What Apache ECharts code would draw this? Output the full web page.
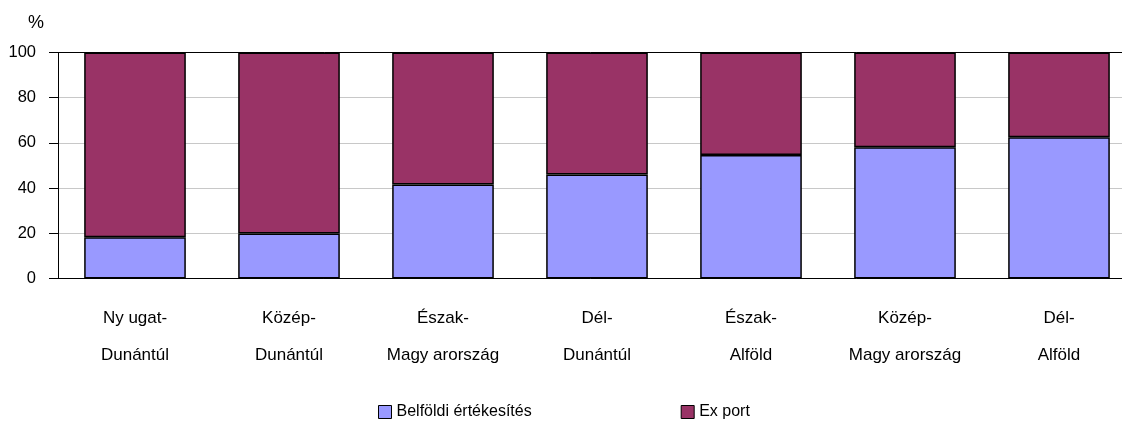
<!DOCTYPE html>
<html>
<head>
<meta charset="utf-8">
<script src="https://cdn.jsdelivr.net/npm/echarts@6/dist/echarts.min.js"></script>
<style>
html, body { margin: 0; padding: 0; background: #ffffff; }
#chart { width: 1122px; height: 421px; }
</style>
</head>
<body>
<div id="chart"></div>
<script>
// régiók (két soros címkék)
const regions = [
    "Ny ugat-\nDunántúl",
    "Közép-\nDunántúl",
    "Észak-\nMagy arország",
    "Dél-\nDunántúl",
    "Észak-\nAlföld",
    "Közép-\nMagy arország",
    "Dél-\nAlföld"
];
// belföldi értékesítés aránya, %
const domestic = [18.3, 19.9, 41.6, 46.0, 54.7, 58.1, 62.5];
// export aránya, %
const exportShare = [81.7, 80.1, 58.4, 54.0, 45.3, 41.9, 37.5];
const seriesNames = ["Belföldi értékesítés", "Ex port"];
const yTicks = { min: 0, max: 100, interval: 20 };

const font = "'Liberation Sans', Arial, sans-serif";

const chart = echarts.init(document.getElementById("chart"));

const option = {
    animation: false,
    backgroundColor: "#ffffff",
    // plot area continues past the right edge of the picture
    grid: { left: 58, top: 52.5, width: 1078, height: 226, containLabel: false, outerBoundsMode: "none" },
    graphic: [{
        type: "text",
        left: 28, top: 14,
        style: { text: "%", fontSize: 18, fontFamily: font, fill: "#000" }
    }],
    legend: {
        left: 373, top: 399,
        itemWidth: 13, itemHeight: 13,
        itemGap: 149,
        icon: "rect",
        data: seriesNames,
        itemStyle: { borderColor: "#000", borderWidth: 1 },
        textStyle: { fontSize: 16, fontFamily: font, color: "#000" }
    },
    xAxis: {
        type: "category",
        data: regions,
        axisLine: { lineStyle: { color: "#000", width: 1 } },
        axisTick: { show: false },
        axisLabel: {
            interval: 0, margin: 21,
            fontSize: 17, lineHeight: 37,
            fontFamily: font, color: "#000"
        }
    },
    yAxis: {
        type: "value",
        min: yTicks.min, max: yTicks.max, interval: yTicks.interval,
        axisLine: { show: true, lineStyle: { color: "#000", width: 1 } },
        axisTick: { show: true, length: 9, lineStyle: { color: "#000" } },
        axisLabel: {
            margin: 22, fontSize: 16.5, fontFamily: font, color: "#000",
            padding: [0, 0, 8, 0]
        },
        splitLine: {
            show: true,
            lineStyle: { color: ["#c8c8c8", "#c8c8c8", "#c8c8c8", "#c8c8c8", "#c8c8c8", "#000"], width: 1 }
        }
    },
    series: [
        {
            name: seriesNames[0],
            type: "bar",
            stack: "total",
            barWidth: "66%",
            data: domestic,
            itemStyle: { color: "#9999ff", borderColor: "#000", borderWidth: 1.5 }
        },
        {
            name: seriesNames[1],
            type: "bar",
            stack: "total",
            barWidth: "66%",
            data: exportShare,
            itemStyle: { color: "#993366", borderColor: "#000", borderWidth: 1.5 }
        }
    ]
};

chart.setOption(option);
</script>
</body>
</html>
